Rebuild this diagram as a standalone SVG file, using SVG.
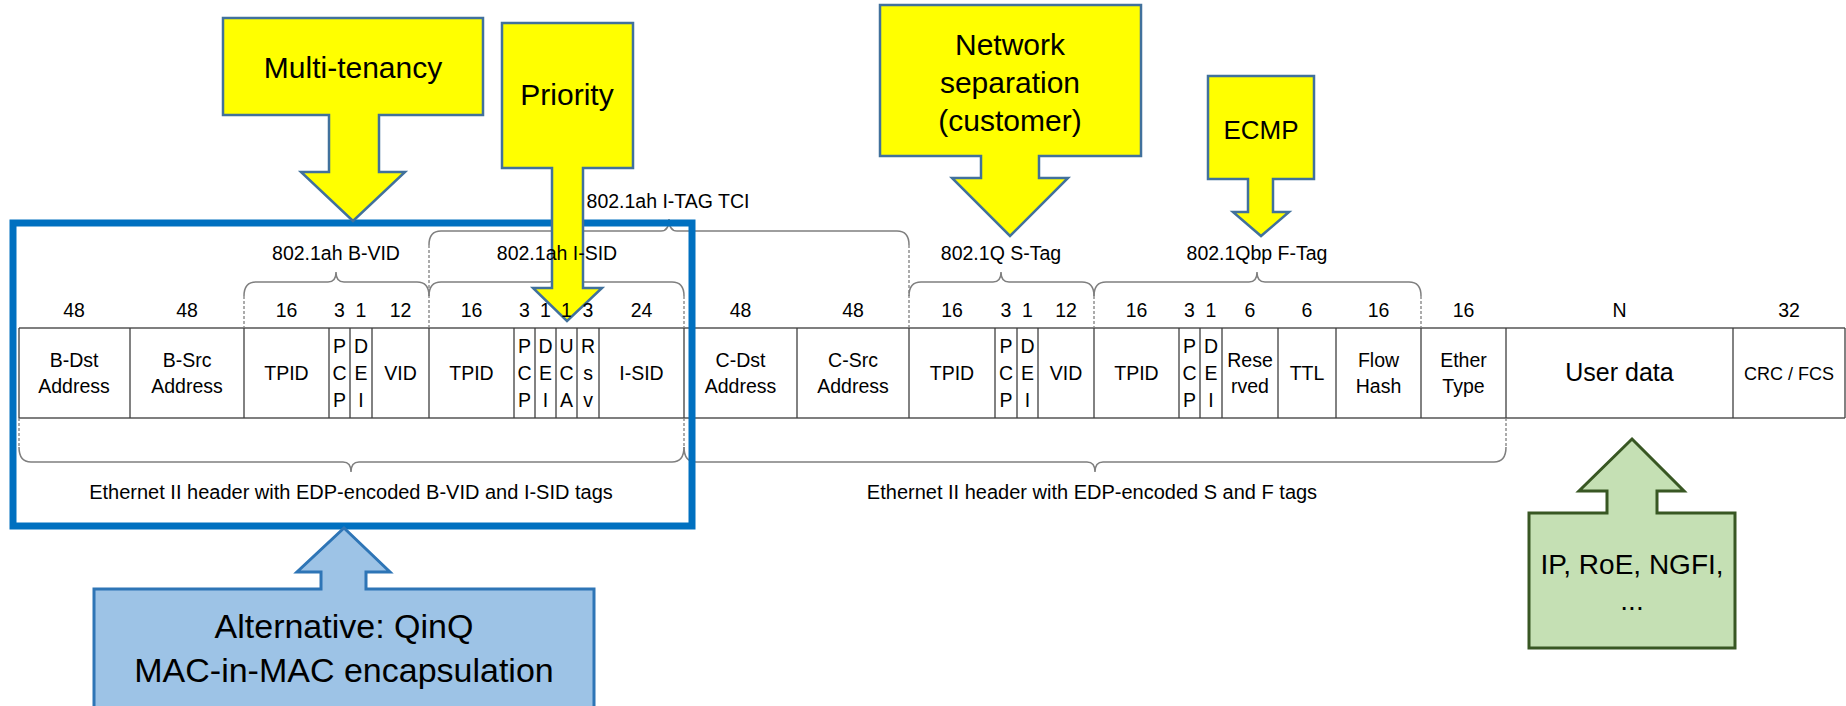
<svg xmlns="http://www.w3.org/2000/svg" width="1846" height="706" viewBox="0 0 1846 706">
<style>
text { font-family: "Liberation Sans", Arial, sans-serif; fill: #000; text-anchor: middle; }
.s { font-size: 19.5px; }
.m { font-size: 20px; }
.big { font-size: 30px; }
.brace { fill: none; stroke: #7f7f7f; stroke-width: 1.5; }
.dash { fill: none; stroke: #7f7f7f; stroke-width: 1.3; stroke-dasharray: 3 2; }
.hline { stroke: #7f7f7f; stroke-width: 2; }
.vline { stroke: #404040; stroke-width: 1.3; }
.yellow { fill: #ffff00; stroke: #41719c; stroke-width: 2.5; }
.lblue { fill: #9dc3e6; stroke: #2e75b6; stroke-width: 3; }
.green { fill: #c5e0b4; stroke: #385723; stroke-width: 3; }
</style>
<rect x="0" y="0" width="1846" height="706" fill="#ffffff"/>

<g id="connectors">
  <!-- top braces -->
  <path class="brace" d="M244,296 Q244,282 256,282 H328 Q336,282 336,272 Q336,282 344,282 H417 Q429,282 429,296"/>
  <path class="brace" d="M429,296 Q429,282 441,282 H549 Q557,282 557,272 Q557,282 565,282 H672 Q684,282 684,296"/>
  <path class="brace" d="M429,245 Q429,231 441,231 H661 Q669,231 669,219 Q669,231 677,231 H897 Q909,231 909,245"/>
  <path class="brace" d="M909,296 Q909,282 921,282 H993 Q1001,282 1001,272 Q1001,282 1009,282 H1082 Q1094,282 1094,296"/>
  <path class="brace" d="M1094,296 Q1094,282 1106,282 H1249 Q1257,282 1257,272 Q1257,282 1265,282 H1409 Q1421,282 1421,296"/>
  <path class="dash" d="M244,296 V328 M429,245 V328 M684,296 V328 M909,245 V328 M1094,296 V328 M1421,296 V328"/>
  <!-- bottom braces -->
  <path class="brace" d="M19,447 Q19,462 31,462 H343 Q351,462 351,472 Q351,462 359,462 H672 Q684,462 684,447"/>
  <path class="brace" d="M684,447 Q684,462 696,462 H1087 Q1095,462 1095,472 Q1095,462 1103,462 H1494 Q1506,462 1506,447"/>
  <path class="dash" d="M19,418 V447 M684,418 V447 M1506,418 V447"/>
</g>

<g id="table">
  <line class="hline" x1="19" y1="328" x2="1845" y2="328"/>
  <line class="hline" x1="19" y1="418" x2="1845" y2="418"/>
  <path class="vline" d="M19,328V418 M130,328V418 M244,328V418 M329,328V418 M350,328V418 M372,328V418 M429,328V418 M514,328V418 M535,328V418 M556,328V418 M577,328V418 M599,328V418 M684,328V418 M797,328V418 M909,328V418 M995,328V418 M1017,328V418 M1038,328V418 M1094,328V418 M1179,328V418 M1200,328V418 M1222,328V418 M1278,328V418 M1336,328V418 M1421,328V418 M1506,328V418 M1733,328V418 M1845,328V418"/>
</g>

<g id="frame-macinmac">
  <rect x="13" y="223" width="679" height="303" fill="none" stroke="#0070c0" stroke-width="7"/>
</g>

<g id="callout-multitenancy">
  <polygon class="yellow" points="223,18 483,18 483,115 379,115 379,172 405,172 353,221 301,172 329,172 329,115 223,115"/>
  <text class="big" x="353" y="78">Multi-tenancy</text>
</g>
<g id="callout-priority">
  <polygon class="yellow" points="502,23 633,23 633,168 583,168 583,288 602,288 567,321 533,288 552,288 552,168 502,168"/>
  <text class="big" x="567" y="105">Priority</text>
</g>
<g id="callout-network">
  <polygon class="yellow" points="880,5 1141,5 1141,156 1039,156 1039,178 1068,178 1010,236 952,178 981,178 981,156 880,156"/>
  <text class="big" x="1010" y="55">Network</text>
  <text class="big" x="1010" y="93">separation</text>
  <text class="big" x="1010" y="131">(customer)</text>
</g>
<g id="callout-ecmp">
  <polygon class="yellow" points="1208,76 1314,76 1314,179 1273,179 1273,212 1289,212 1261,236 1233,212 1248,212 1248,179 1208,179"/>
  <text x="1261" y="139" font-size="26">ECMP</text>
</g>
<g id="callout-userdata">
  <polygon class="green" points="1632,439 1684,491 1657,491 1657,513 1735,513 1735,648 1529,648 1529,513 1607,513 1607,491 1579,491"/>
  <text x="1632" y="574" font-size="28">IP, RoE, NGFI,</text>
  <text x="1632" y="610" font-size="28">...</text>
</g>
<g id="callout-qinq">
  <polygon class="lblue" points="344,528 390,572 366,572 366,589 594,589 594,712 94,712 94,589 321,589 321,572 297,572"/>
  <text x="344" y="638" font-size="34">Alternative: QinQ</text>
  <text x="344" y="682" font-size="34">MAC-in-MAC encapsulation</text>
</g>

<g id="labels">
  <text class="s" x="336" y="260">802.1ah B-VID</text>
  <text class="s" x="557" y="260">802.1ah I-SID</text>
  <text class="s" x="668" y="208">802.1ah I-TAG TCI</text>
  <text class="s" x="1001" y="260">802.1Q S-Tag</text>
  <text class="s" x="1257" y="260">802.1Qbp F-Tag</text>
  <text class="m" x="351" y="499">Ethernet II header with EDP-encoded B-VID and I-SID tags</text>
  <text class="m" x="1092" y="499">Ethernet II header with EDP-encoded S and F tags</text>
</g>

<g id="field-sizes" class="s">
  <text class="s" x="74" y="317">48</text>
  <text class="s" x="187" y="317">48</text>
  <text class="s" x="286.5" y="317">16</text>
  <text class="s" x="339.5" y="317">3</text>
  <text class="s" x="361" y="317">1</text>
  <text class="s" x="400.5" y="317">12</text>
  <text class="s" x="471.5" y="317">16</text>
  <text class="s" x="524.5" y="317">3</text>
  <text class="s" x="545.5" y="317">1</text>
  <text class="s" x="566.5" y="317">1</text>
  <text class="s" x="588" y="317">3</text>
  <text class="s" x="641.5" y="317">24</text>
  <text class="s" x="740.5" y="317">48</text>
  <text class="s" x="853" y="317">48</text>
  <text class="s" x="952" y="317">16</text>
  <text class="s" x="1006" y="317">3</text>
  <text class="s" x="1027.5" y="317">1</text>
  <text class="s" x="1066" y="317">12</text>
  <text class="s" x="1136.5" y="317">16</text>
  <text class="s" x="1189.5" y="317">3</text>
  <text class="s" x="1211" y="317">1</text>
  <text class="s" x="1250" y="317">6</text>
  <text class="s" x="1307" y="317">6</text>
  <text class="s" x="1378.5" y="317">16</text>
  <text class="s" x="1463.5" y="317">16</text>
  <text class="s" x="1619.5" y="317">N</text>
  <text class="s" x="1789" y="317">32</text>
</g>

<g id="field-names">
  <g id="f-bdst"><text class="s" x="74" y="367">B-Dst</text><text class="s" x="74" y="393">Address</text></g>
  <g id="f-bsrc"><text class="s" x="187" y="367">B-Src</text><text class="s" x="187" y="393">Address</text></g>
  <g id="f-btpid"><text class="s" x="286.5" y="380">TPID</text></g>
  <g id="f-bpcp"><text class="s" x="339.5" y="353">P</text><text class="s" x="339.5" y="380">C</text><text class="s" x="339.5" y="407">P</text></g>
  <g id="f-bdei"><text class="s" x="361" y="353">D</text><text class="s" x="361" y="380">E</text><text class="s" x="361" y="407">I</text></g>
  <g id="f-bvid"><text class="s" x="400.5" y="380">VID</text></g>
  <g id="f-itpid"><text class="s" x="471.5" y="380">TPID</text></g>
  <g id="f-ipcp"><text class="s" x="524.5" y="353">P</text><text class="s" x="524.5" y="380">C</text><text class="s" x="524.5" y="407">P</text></g>
  <g id="f-idei"><text class="s" x="545.5" y="353">D</text><text class="s" x="545.5" y="380">E</text><text class="s" x="545.5" y="407">I</text></g>
  <g id="f-uca"><text class="s" x="566.5" y="353">U</text><text class="s" x="566.5" y="380">C</text><text class="s" x="566.5" y="407">A</text></g>
  <g id="f-rsv"><text class="s" x="588" y="353">R</text><text class="s" x="588" y="380">s</text><text class="s" x="588" y="407">v</text></g>
  <g id="f-isid"><text class="s" x="641.5" y="380">I-SID</text></g>
  <g id="f-cdst"><text class="s" x="740.5" y="367">C-Dst</text><text class="s" x="740.5" y="393">Address</text></g>
  <g id="f-csrc"><text class="s" x="853" y="367">C-Src</text><text class="s" x="853" y="393">Address</text></g>
  <g id="f-stpid"><text class="s" x="952" y="380">TPID</text></g>
  <g id="f-spcp"><text class="s" x="1006" y="353">P</text><text class="s" x="1006" y="380">C</text><text class="s" x="1006" y="407">P</text></g>
  <g id="f-sdei"><text class="s" x="1027.5" y="353">D</text><text class="s" x="1027.5" y="380">E</text><text class="s" x="1027.5" y="407">I</text></g>
  <g id="f-svid"><text class="s" x="1066" y="380">VID</text></g>
  <g id="f-ftpid"><text class="s" x="1136.5" y="380">TPID</text></g>
  <g id="f-fpcp"><text class="s" x="1189.5" y="353">P</text><text class="s" x="1189.5" y="380">C</text><text class="s" x="1189.5" y="407">P</text></g>
  <g id="f-fdei"><text class="s" x="1211" y="353">D</text><text class="s" x="1211" y="380">E</text><text class="s" x="1211" y="407">I</text></g>
  <g id="f-reserved"><text class="s" x="1250" y="367">Rese</text><text class="s" x="1250" y="393">rved</text></g>
  <g id="f-ttl"><text class="s" x="1307" y="380">TTL</text></g>
  <g id="f-flowhash"><text class="s" x="1378.5" y="367">Flow</text><text class="s" x="1378.5" y="393">Hash</text></g>
  <g id="f-ethertype"><text class="s" x="1463.5" y="367">Ether</text><text class="s" x="1463.5" y="393">Type</text></g>
  <g id="f-userdata"><text x="1619.5" y="381" font-size="25">User data</text></g>
  <g id="f-crc"><text x="1789" y="380" font-size="18">CRC / FCS</text></g>
</g>
</svg>
